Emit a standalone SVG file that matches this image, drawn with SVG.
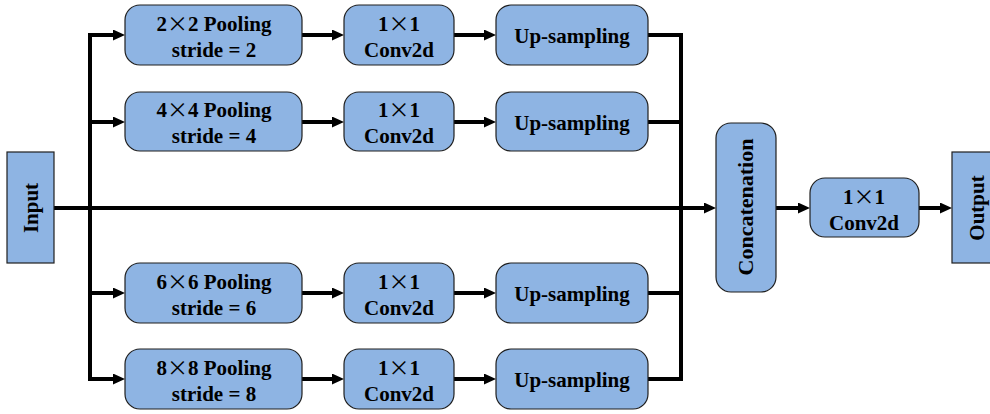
<svg xmlns="http://www.w3.org/2000/svg" width="990" height="414" viewBox="0 0 990 414">
  <defs>
    <marker id="arrow" markerUnits="userSpaceOnUse" markerWidth="12" markerHeight="11" refX="2" refY="5.5" orient="auto">
      <path d="M0,0 L12,5.5 L0,11 z" fill="#000"/>
    </marker>
  </defs>
  <style>
    .box { fill: #8EB4E3; stroke: #1f1f1f; stroke-width: 1.2; }
    .lbl { font-family: "Liberation Serif", "Times New Roman", serif; font-weight: bold; font-size: 21px; fill: #000; text-anchor: middle; }
    .x { font-family: "Noto Sans CJK SC", sans-serif; font-weight: normal; }
    .wire { stroke: #000; stroke-width: 4; fill: none; }
    .arr { stroke: #000; stroke-width: 4; fill: none; marker-end: url(#arrow); }
  </style>

  <rect width="990" height="414" fill="#fff"/>

  <!-- connectors -->
  <g id="connectors">
    <!-- left bus -->
    <line class="wire" x1="90" y1="33" x2="90" y2="380"/>
    <!-- right collector -->
    <line class="wire" x1="681" y1="33" x2="681" y2="380"/>
    <!-- main trunk -->
    <line class="arr" x1="54" y1="208" x2="706" y2="208"/>
    <!-- branch rows -->
    <line class="arr" x1="88" y1="35" x2="115" y2="35"/>
    <line class="arr" x1="88" y1="122" x2="115" y2="122"/>
    <line class="arr" x1="88" y1="293" x2="115" y2="293"/>
    <line class="arr" x1="88" y1="379" x2="115" y2="379"/>

    <line class="arr" x1="302" y1="35" x2="334" y2="35"/>
    <line class="arr" x1="302" y1="122" x2="334" y2="122"/>
    <line class="arr" x1="302" y1="293" x2="334" y2="293"/>
    <line class="arr" x1="302" y1="379" x2="334" y2="379"/>

    <line class="arr" x1="454" y1="35" x2="486" y2="35"/>
    <line class="arr" x1="454" y1="122" x2="486" y2="122"/>
    <line class="arr" x1="454" y1="293" x2="486" y2="293"/>
    <line class="arr" x1="454" y1="379" x2="486" y2="379"/>

    <line class="wire" x1="648" y1="35" x2="683" y2="35"/>
    <line class="wire" x1="648" y1="122" x2="683" y2="122"/>
    <line class="wire" x1="648" y1="293" x2="683" y2="293"/>
    <line class="wire" x1="648" y1="379" x2="683" y2="379"/>

    <line class="arr" x1="776" y1="208" x2="800" y2="208"/>
    <line class="arr" x1="919" y1="208" x2="942" y2="208"/>
  </g>

  <g id="input">
    <rect class="box" x="7" y="152" width="47" height="111"/>
    <text class="lbl" transform="translate(38,208) rotate(-90)">Input</text>
  </g>

  <!-- pooling row 1 -->
  <g id="pool2">
    <rect class="box" x="125" y="5" width="177" height="60" rx="15"/>
    <text class="lbl" x="214" y="31">2<tspan class="x">×</tspan>2 Pooling</text>
    <text class="lbl" x="214" y="57">stride = 2</text>
  </g>
  <g id="conv_a">
    <rect class="box" x="344" y="5" width="110" height="60" rx="15"/>
    <text class="lbl" x="399" y="31">1<tspan class="x">×</tspan>1</text>
    <text class="lbl" x="399" y="57">Conv2d</text>
  </g>
  <g id="up_a">
    <rect class="box" x="496" y="5" width="152" height="60" rx="15"/>
    <text class="lbl" x="572" y="43">Up-sampling</text>
  </g>

  <!-- pooling row 2 -->
  <g id="pool4">
    <rect class="box" x="125" y="92" width="177" height="59" rx="15"/>
    <text class="lbl" x="214" y="117">4<tspan class="x">×</tspan>4 Pooling</text>
    <text class="lbl" x="214" y="143">stride = 4</text>
  </g>
  <g id="conv_b">
    <rect class="box" x="344" y="92" width="110" height="59" rx="15"/>
    <text class="lbl" x="399" y="117">1<tspan class="x">×</tspan>1</text>
    <text class="lbl" x="399" y="143">Conv2d</text>
  </g>
  <g id="up_b">
    <rect class="box" x="496" y="92" width="152" height="59" rx="15"/>
    <text class="lbl" x="572" y="130">Up-sampling</text>
  </g>

  <!-- pooling row 3 -->
  <g id="pool6">
    <rect class="box" x="125" y="263" width="177" height="60" rx="15"/>
    <text class="lbl" x="214" y="289">6<tspan class="x">×</tspan>6 Pooling</text>
    <text class="lbl" x="214" y="315">stride = 6</text>
  </g>
  <g id="conv_c">
    <rect class="box" x="344" y="263" width="110" height="60" rx="15"/>
    <text class="lbl" x="399" y="289">1<tspan class="x">×</tspan>1</text>
    <text class="lbl" x="399" y="315">Conv2d</text>
  </g>
  <g id="up_c">
    <rect class="box" x="496" y="263" width="152" height="60" rx="15"/>
    <text class="lbl" x="572" y="301">Up-sampling</text>
  </g>

  <!-- pooling row 4 -->
  <g id="pool8">
    <rect class="box" x="125" y="349" width="177" height="60" rx="15"/>
    <text class="lbl" x="214" y="375">8<tspan class="x">×</tspan>8 Pooling</text>
    <text class="lbl" x="214" y="401">stride = 8</text>
  </g>
  <g id="conv_d">
    <rect class="box" x="344" y="349" width="110" height="60" rx="15"/>
    <text class="lbl" x="399" y="375">1<tspan class="x">×</tspan>1</text>
    <text class="lbl" x="399" y="401">Conv2d</text>
  </g>
  <g id="up_d">
    <rect class="box" x="496" y="349" width="152" height="60" rx="15"/>
    <text class="lbl" x="572" y="387">Up-sampling</text>
  </g>

  <g id="concat">
    <rect class="box" x="716" y="123" width="60" height="169" rx="15"/>
    <text class="lbl" style="font-size:22px" transform="translate(753,207) rotate(-90)">Concatenation</text>
  </g>

  <g id="conv_out">
    <rect class="box" x="810" y="178" width="109" height="59" rx="15"/>
    <text class="lbl" x="864" y="204">1<tspan class="x">×</tspan>1</text>
    <text class="lbl" x="864" y="230">Conv2d</text>
  </g>

  <g id="output">
    <rect class="box" x="952" y="152" width="50" height="111"/>
    <text class="lbl" transform="translate(984,208) rotate(-90)">Output</text>
  </g>
</svg>
